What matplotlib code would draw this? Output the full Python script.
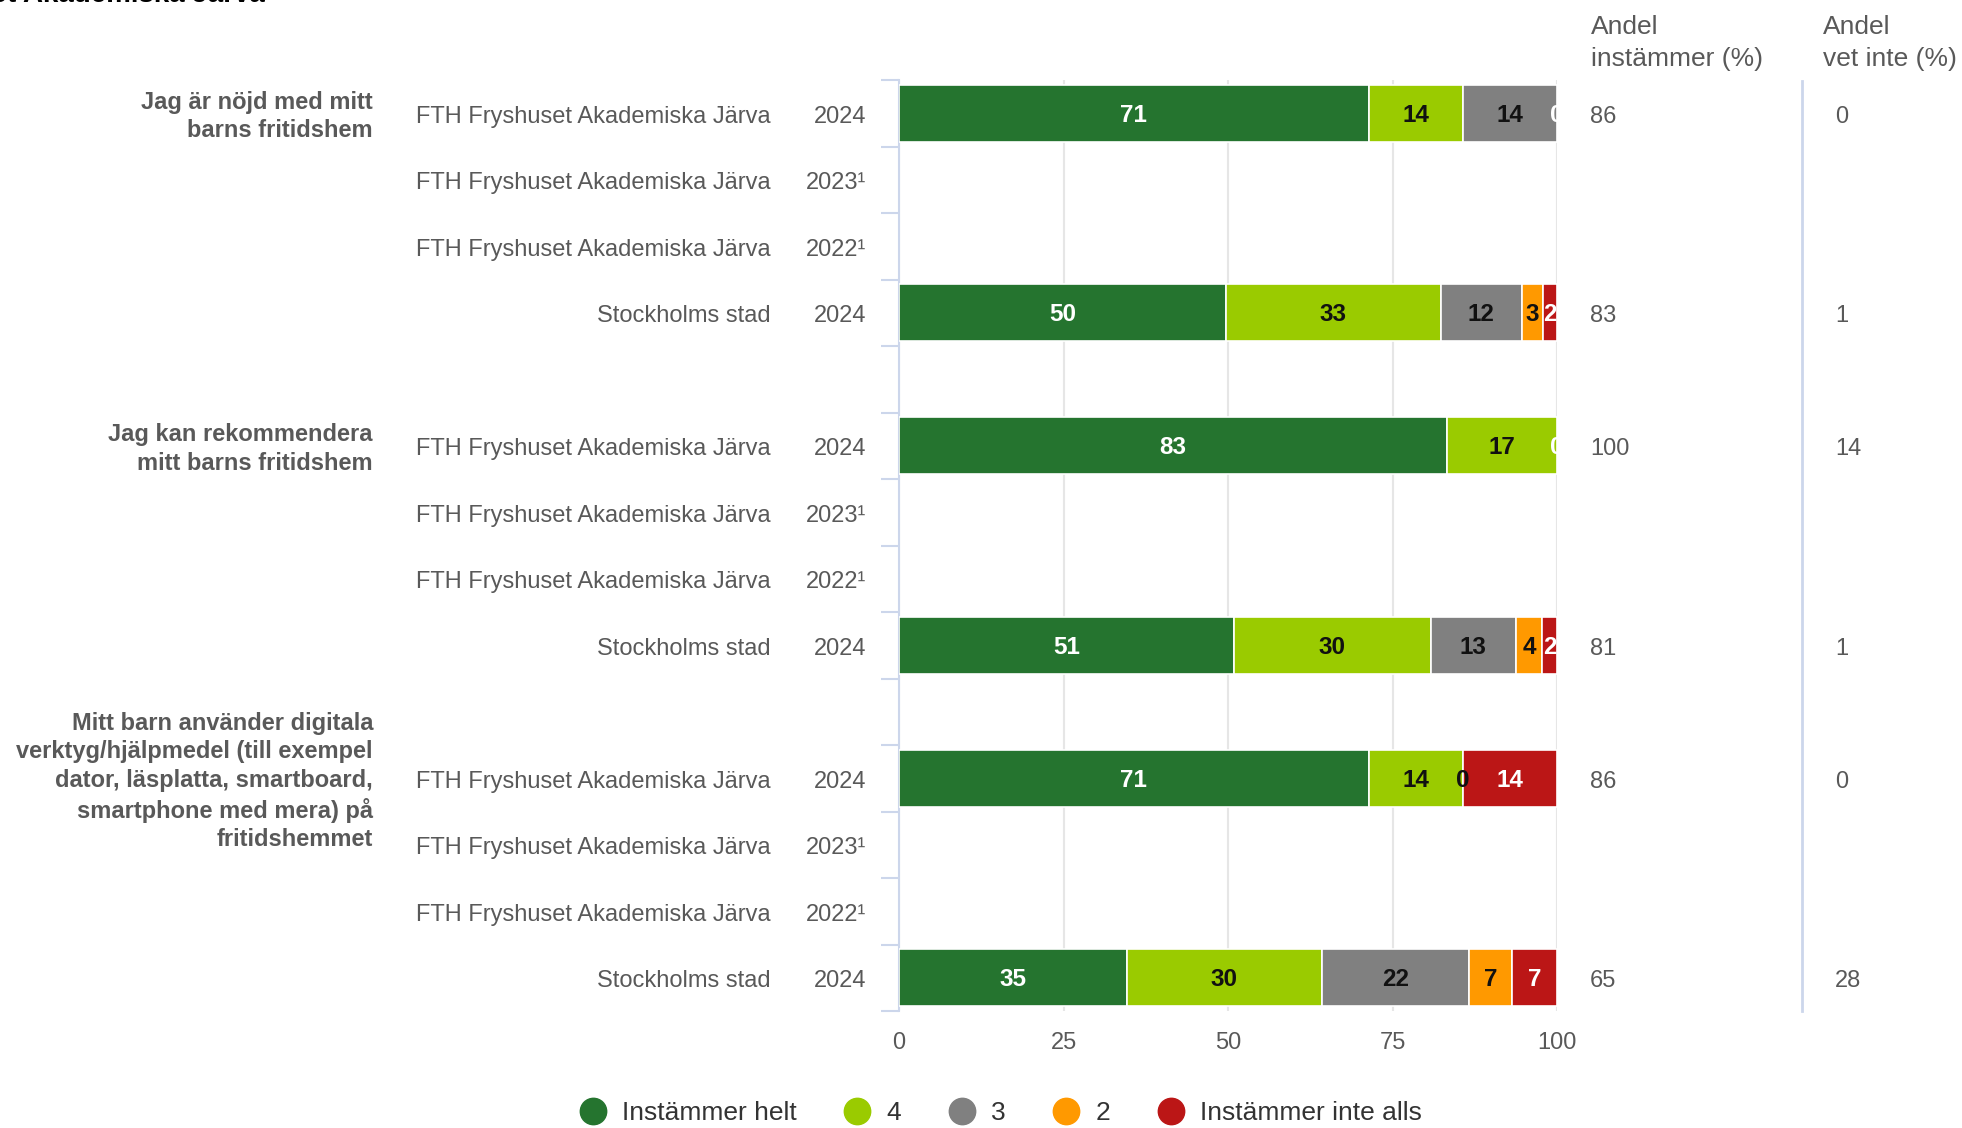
import numpy as np
import matplotlib.pyplot as plt
from matplotlib.lines import Line2D
from matplotlib.transforms import blended_transform_factory

plt.rcParams["font.family"] = ["Liberation Sans", "DejaVu Sans"]

# --- data ---------------------------------------------------------------
questions = [
    "Jag är nöjd med mitt\nbarns fritidshem",
    "Jag kan rekommendera\nmitt barns fritidshem",
    "Mitt barn använder digitala\nverktyg/hjälpmedel (till exempel\n"
    "dator, läsplatta, smartboard,\nsmartphone med mera) på\nfritidshemmet",
]
row_names = ["FTH Fryshuset Akademiska Järva"] * 3 + ["Stockholms stad"]
row_years = ["2024", "2023¹", "2022¹", "2024"]
categories = ["Instämmer helt", "4", "3", "2", "Instämmer inte alls"]
colors = ["#25742f", "#9acb00", "#808080", "#ff9900", "#bb1616"]
label_colors = ["white", "#111111", "#111111", "#111111", "white"]

# one entry per row (question x row), None = no data
helt = [71.4, None, None, 49.7, 83.3, None, None, 50.9, 71.4, None, None, 34.6]
four = [14.3, None, None, 32.6, 16.7, None, None, 29.9, 14.3, None, None, 29.7]
three = [14.3, None, None, 12.4, 0.0, None, None, 13.0, 0.0, None, None, 22.3]
two = [0.0, None, None, 3.2, 0.0, None, None, 3.9, 0.0, None, None, 6.6]
inte_alls = [0.0, None, None, 2.1, 0.0, None, None, 2.3, 14.3, None, None, 6.8]
andel_instammer = [86, None, None, 83, 100, None, None, 81, 86, None, None, 65]
andel_vet_inte = [0, None, None, 1, 14, None, None, 1, 0, None, None, 28]

series = [helt, four, three, two, inte_alls]

# --- figure -------------------------------------------------------------
W, H = 1962, 1128
fig = plt.figure(figsize=(W / 100, H / 100), dpi=100)
ax = fig.add_axes([899 / W, 1 - 1011 / H, 658 / W, (1011 - 80) / H])

n_slots = 14
ypos = [g * 5 + r for g in range(3) for r in range(4)]
bar_h = 0.85

text_c = "#595959"
axis_c = "#ccd6eb"

left = np.zeros(len(ypos))
for k, (vals, col, lc) in enumerate(zip(series, colors, label_colors)):
    for i, v in enumerate(vals):
        if v is None:
            continue
        if v > 0:
            ax.barh(ypos[i], v, left=left[i], height=bar_h, color=col,
                    edgecolor="white", linewidth=1.2, zorder=3)
        # label; zero values only shown when the next segment is non-zero
        nxt = [s[i] for s in series[k + 1:]]
        if v > 0 or all((x or 0) > 0 for x in nxt[:1]) or not nxt:
            ax.text(left[i] + v / 2, ypos[i] + 0.03, f"{v:.0f}", ha="center",
                    va="center", color=lc, fontsize=17.5, fontweight="bold",
                    zorder=4, clip_on=True)
        left[i] += v

ax.set_xlim(0, 100)
ax.set_ylim(n_slots - 0.5, -0.5)
ax.set_xticks([0, 25, 50, 75, 100])
ax.tick_params(axis="x", length=0, pad=15, labelsize=17, labelcolor=text_c)
ax.set_yticks([])
ax.set_yticks(np.arange(-0.5, n_slots, 1), minor=True)
ax.tick_params(axis="y", which="minor", length=13, width=1.5, color=axis_c,
               direction="out")
ax.grid(axis="x", color="#e6e6e6", linewidth=1.5, zorder=0)
for s in ["top", "right", "bottom"]:
    ax.spines[s].set_visible(False)
ax.spines["left"].set_color(axis_c)
ax.spines["left"].set_linewidth(1.5)

# row and group labels
tr = blended_transform_factory(fig.transFigure, ax.transData)
for i, y in enumerate(ypos):
    r = i % 4
    ty = y + 0.05
    ax.text(771 / W, ty, row_names[r], transform=tr, ha="right", va="center",
            fontsize=17, color=text_c)
    ax.text(866 / W, ty, row_years[r], transform=tr, ha="right", va="center",
            fontsize=17, color=text_c)
    if andel_instammer[i] is not None:
        ax.text(1590 / W, ty, str(andel_instammer[i]), transform=tr,
                ha="left", va="center", fontsize=17, color=text_c)
        ax.text(1835 / W, ty, str(andel_vet_inte[i]), transform=tr,
                ha="left", va="center", fontsize=17, color=text_c)

for g, q in enumerate(questions):
    ax.text(373 / W, g * 5 + 0.05, q, transform=tr, ha="right", va="center",
            multialignment="right", fontsize=17, fontweight="bold",
            color=text_c, linespacing=1.3)

# right-hand columns
fig.text(1591 / W, 1 - 15 / H, "Andel\ninstämmer (%)", ha="left", va="top",
         fontsize=19, color=text_c, linespacing=1.4)
fig.text(1823 / W, 1 - 15 / H, "Andel\nvet inte (%)", ha="left", va="top",
         fontsize=19, color=text_c, linespacing=1.4)
fig.add_artist(Line2D([1802 / W, 1802 / W], [1 - 81 / H, 1 - 1011 / H],
                      color=axis_c, linewidth=2))

# cut-off title at the very top
fig.text(265 / W, 1 - 2 / H, "FTH Fryshuset Akademiska Järva", ha="right",
         va="baseline", fontsize=20, fontweight="bold", color="black")

# legend
handles = [Line2D([], [], marker="o", linestyle="none", markersize=19,
                  markerfacecolor=c, markeredgecolor=c) for c in colors]
fig.legend(handles, categories, loc="center", ncol=5, frameon=False,
           bbox_to_anchor=(0.51, 1 - 1113 / H), fontsize=19,
           labelcolor="#333333", handlelength=1.0, handletextpad=0.6,
           columnspacing=1.8)

fig.savefig("out.png", dpi=100)
